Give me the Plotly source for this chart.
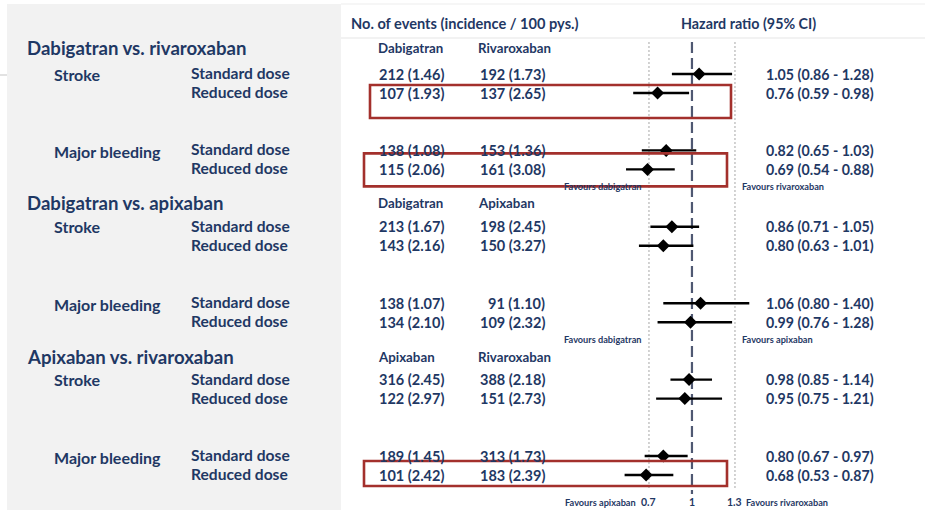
import plotly.graph_objects as go

# ---- data ----
comparisons = ["Dabigatran vs. rivaroxaban", "Dabigatran vs. apixaban", "Apixaban vs. rivaroxaban"]
drug_a = ["Dabigatran", "Dabigatran", "Apixaban"]
drug_b = ["Rivaroxaban", "Apixaban", "Rivaroxaban"]
favours_left = ["Favours dabigatran", "Favours dabigatran", "Favours apixaban"]
favours_right = ["Favours rivaroxaban", "Favours apixaban", "Favours rivaroxaban"]
outcomes = ["Stroke", "Major bleeding"]
doses = ["Standard dose", "Reduced dose"]

events_a = [212, 107, 138, 115, 213, 143, 138, 134, 316, 122, 189, 101]
inc_a = [1.46, 1.93, 1.08, 2.06, 1.67, 2.16, 1.07, 2.10, 2.45, 2.97, 1.45, 2.42]
events_b = [192, 137, 153, 161, 198, 150, 91, 109, 388, 151, 313, 183]
inc_b = [1.73, 2.65, 1.36, 3.08, 2.45, 3.27, 1.10, 2.32, 2.18, 2.73, 1.73, 2.39]
hr = [1.05, 0.76, 0.82, 0.69, 0.86, 0.80, 1.06, 0.99, 0.98, 0.95, 0.80, 0.68]
ci_lo = [0.86, 0.59, 0.65, 0.54, 0.71, 0.63, 0.80, 0.76, 0.85, 0.75, 0.67, 0.53]
ci_hi = [1.28, 0.98, 1.03, 0.88, 1.05, 1.01, 1.40, 1.28, 1.14, 1.21, 0.97, 0.87]
highlighted_rows = [1, 3, 11]
axis_ticks = [0.7, 1, 1.3]

# ---- layout helpers ----
W, H = 925, 510
NAVY = "#1f3864"
FONT = "Lato"
X_LO, X_HI = -3.828, 2.626  # HR axis spans the full width; 1.0 sits at ~692 px


def px(x):
    return x / W


def row_y(i):
    block, dose = divmod(i, 2)
    return 74 + 76.4 * block + 19 * dose


def group_y(g):
    return 48 + 154.5 * g


annotations = []


def label(text, x, y, size, anchor="left", color=NAVY):
    annotations.append(dict(
        text=f"<b>{text}</b>", x=px(x), y=y,
        xref="paper", yref="y", xanchor=anchor, yanchor="middle",
        showarrow=False, borderpad=0, borderwidth=0,
        font=dict(family=FONT, size=size, color=color),
    ))


# headers
label("No. of events (incidence / 100 pys.)", 351, 23, 14.6)
label("Hazard ratio (95% CI)", 681, 23, 14.3)

for g, comp in enumerate(comparisons):
    label(comp, 27, group_y(g), 18.6)
    label(drug_a[g], 378, group_y(g), 13.3)
    label(drug_b[g], 478, group_y(g), 13.3)
    for o, outcome in enumerate(outcomes):
        first = g * 4 + o * 2
        label(outcome, 54, row_y(first) + (1 if o else 0), 16)
        for d, dose in enumerate(doses):
            i = first + d
            y = row_y(i)
            label(dose, 191, y - 1, 15.6)
            label(f"{events_a[i]} ({inc_a[i]:.2f})", 444, y, 14.5, anchor="right")
            label(f"{events_b[i]} ({inc_b[i]:.2f})", 545, y, 14.5, anchor="right")
            label(f"{hr[i]:.2f} ({ci_lo[i]:.2f} - {ci_hi[i]:.2f})", 766, y, 14.2)
    if g < 2:
        fav_y, left_end, right_start = row_y(g * 4 + 3) + 17, 641, 742
    else:
        fav_y, left_end, right_start = 502, 636, 746
    label(favours_left[g], left_end, fav_y, 9.2, anchor="right")
    label(favours_right[g], right_start, fav_y, 9.2)

for t in axis_ticks:
    annotations.append(dict(
        text=f"<b>{t:g}</b>", x=t, y=502, xref="x", yref="y",
        xanchor="center", yanchor="middle", showarrow=False,
        borderpad=0, font=dict(family=FONT, size=10.5, color=NAVY),
    ))

# ---- shapes ----
shapes = [
    # grey label panel
    dict(type="rect", xref="paper", yref="y", x0=px(7), x1=px(341), y0=4, y1=H,
         fillcolor="#f2f2f2", line=dict(width=0), layer="below"),
    dict(type="line", xref="paper", yref="y", x0=0, x1=px(7), y0=75, y1=75,
         line=dict(color="#e2e2e2", width=2), layer="below"),
    dict(type="line", xref="paper", yref="y", x0=px(341), x1=1, y0=38, y1=38,
         line=dict(color="#eeeeee", width=1.5), layer="below"),
    dict(type="line", xref="paper", yref="y", x0=px(341), x1=1, y0=4, y1=4,
         line=dict(color="#f3f3f3", width=1.5), layer="below"),
    # reference line at HR = 1
    dict(type="line", xref="x", yref="y", x0=1, x1=1, y0=42, y1=494,
         line=dict(color="#4f5872", width=2.2, dash="11px,5px"), layer="below"),
]
for t in (0.7, 1.3):
    shapes.append(dict(type="line", xref="x", yref="y", x0=t, x1=t, y0=42, y1=488,
                       line=dict(color="#c4c4c4", width=1.5, dash="2px,2px"), layer="below"))

# red highlight boxes around selected rows
box_extent = {1: (370, 731, -8, 25), 3: (364, 727, -16, 17), 11: (364, 727, -14, 11)}
for i in highlighted_rows:
    x0, x1, dy0, dy1 = box_extent[i]
    y = row_y(i)
    shapes.append(dict(type="rect", xref="paper", yref="y", x0=px(x0), x1=px(x1),
                       y0=y + dy0, y1=y + dy1,
                       line=dict(color="#a3302c", width=2.6), fillcolor="rgba(0,0,0,0)"))

# ---- forest marks ----
fig = go.Figure()
fig.add_trace(go.Scatter(
    x=hr, y=[row_y(i) for i in range(len(hr))], mode="markers",
    marker=dict(symbol="diamond", size=10, color="black"),
    error_x=dict(type="data", symmetric=False,
                 array=[hi - h for hi, h in zip(ci_hi, hr)],
                 arrayminus=[h - lo for h, lo in zip(hr, ci_lo)],
                 color="black", thickness=2.4, width=0),
    hoverinfo="skip", showlegend=False,
))

fig.update_layout(
    width=W, height=H, margin=dict(l=0, r=0, t=0, b=0),
    paper_bgcolor="white", plot_bgcolor="rgba(0,0,0,0)",
    xaxis=dict(range=[X_LO, X_HI], visible=False, fixedrange=True),
    yaxis=dict(range=[H, 0], visible=False, fixedrange=True),
    shapes=shapes, annotations=annotations,
)

fig.write_html("out.html")
